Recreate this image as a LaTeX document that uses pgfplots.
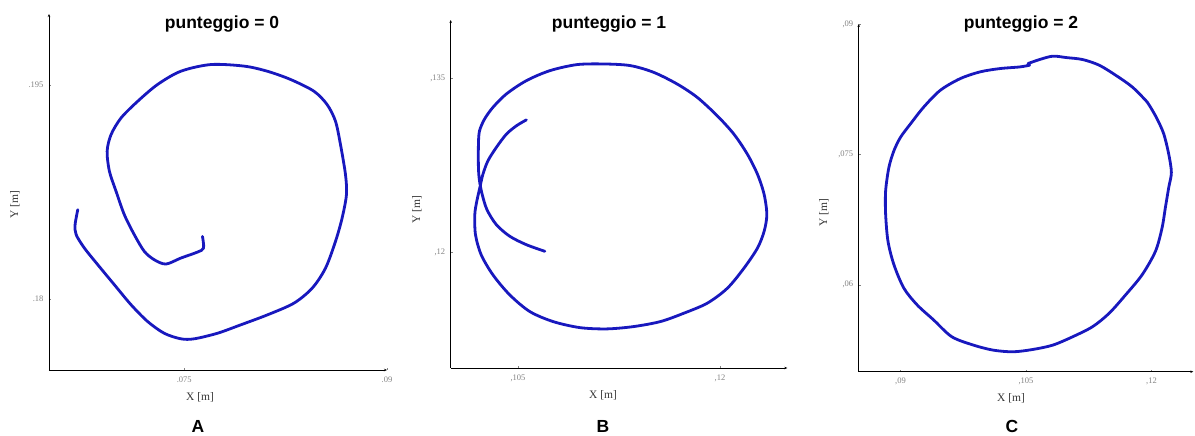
\documentclass[border=0pt]{standalone}
\usepackage{fontspec}
\setmainfont{Liberation Serif}
\newfontfamily\sansbold{Liberation Sans}
\usepackage{pgfplots}
\pgfplotsset{compat=1.18}
\usetikzlibrary{arrows.meta}

\definecolor{trace}{RGB}{24,24,190}
\definecolor{ticktext}{RGB}{130,130,130}
\definecolor{labeltext}{RGB}{55,55,55}

% Trajectory of the pen tip, one table per trial
\pgfplotstableread{
x y
0.07635 0.18438
0.07643 0.18356
0.07598 0.18328
0.07475 0.18286
0.07365 0.18244
0.07279 0.18274
0.07205 0.18333
0.07131 0.18450
0.07057 0.18591
0.06996 0.18755
0.06947 0.18895
0.06930 0.19036
0.06959 0.19153
0.07033 0.19270
0.07156 0.19387
0.07303 0.19505
0.07475 0.19598
0.07697 0.19645
0.07943 0.19634
0.08115 0.19598
0.08287 0.19540
0.08459 0.19458
0.08557 0.19364
0.08619 0.19247
0.08656 0.19083
0.08693 0.18872
0.08700 0.18731
0.08668 0.18567
0.08619 0.18403
0.08545 0.18215
0.08447 0.18075
0.08311 0.17969
0.08115 0.17887
0.07918 0.17817
0.07746 0.17758
0.07574 0.17719
0.07475 0.17719
0.07352 0.17758
0.07230 0.17840
0.07107 0.17958
0.06984 0.18098
0.06861 0.18239
0.06762 0.18356
0.06701 0.18450
0.06693 0.18520
0.06713 0.18626
}\trialA

\pgfplotstableread{
x y
0.10562 0.13139
0.10488 0.13088
0.10413 0.13015
0.10338 0.12900
0.10276 0.12785
0.10239 0.12669
0.10219 0.12568
0.10194 0.12438
0.10179 0.12323
0.10184 0.12150
0.10226 0.11977
0.10313 0.11804
0.10438 0.11631
0.10587 0.11487
0.10761 0.11400
0.10960 0.11348
0.11159 0.11337
0.11358 0.11357
0.11557 0.11400
0.11731 0.11472
0.11906 0.11559
0.12055 0.11688
0.12179 0.11862
0.12279 0.12035
0.12328 0.12179
0.12348 0.12323
0.12328 0.12496
0.12279 0.12669
0.12204 0.12842
0.12104 0.13015
0.11980 0.13174
0.11831 0.13333
0.11682 0.13448
0.11507 0.13549
0.11333 0.13607
0.11134 0.13621
0.10935 0.13615
0.10736 0.13563
0.10562 0.13477
0.10413 0.13362
0.10313 0.13246
0.10251 0.13145
0.10214 0.13044
0.10206 0.12929
0.10206 0.12727
0.10214 0.12612
0.10234 0.12496
0.10269 0.12366
0.10338 0.12237
0.10438 0.12136
0.10562 0.12063
0.10699 0.12006
}\trialB

\pgfplotstableread{
x y
0.10544 0.08526
0.10425 0.08506
0.10187 0.08487
0.09950 0.08449
0.09712 0.08371
0.09475 0.08237
0.09277 0.08044
0.09119 0.07851
0.09000 0.07697
0.08921 0.07542
0.08861 0.07350
0.08822 0.07080
0.08822 0.06810
0.08850 0.06501
0.08921 0.06231
0.09040 0.05961
0.09198 0.05769
0.09396 0.05595
0.09613 0.05402
0.09871 0.05306
0.10108 0.05248
0.10346 0.05229
0.10583 0.05256
0.10821 0.05306
0.11058 0.05402
0.11296 0.05518
0.11494 0.05672
0.11691 0.05884
0.11889 0.06116
0.12048 0.06386
0.12127 0.06656
0.12166 0.06887
0.12206 0.07118
0.12238 0.07292
0.12206 0.07504
0.12147 0.07735
0.12067 0.07909
0.11988 0.08044
0.11949 0.08102
0.11771 0.08275
0.11573 0.08410
0.11375 0.08526
0.11177 0.08591
0.10979 0.08614
0.10821 0.08630
0.10662 0.08591
0.10524 0.08545
}\trialC

\pgfplotsset{
  traj/.style={
    scale only axis,
    anchor=south west,
    axis lines=left,
    axis line style={black, line width=0.8pt, -{Stealth[length=3pt,width=2.5pt]}},
    tick style={ticktext, line width=0.4pt},
    major tick length=2pt,
    tick align=inside,
    scaled ticks=false,
    ticklabel style={font=\fontsize{8.5}{9}\selectfont, text=ticktext},
    xticklabel style={yshift=-3pt},
    yticklabel style={xshift=-2pt},
    clip=false,
  },
  pen/.style={trace, line width=2.8pt, smooth, tension=0.5, no markers, line join=round, line cap=round},
}

\begin{document}
\begin{tikzpicture}[x=1pt,y=1pt]
\useasboundingbox (0,0) rectangle (1195,436);

% Trial A
\begin{axis}[traj, at={(49pt,66pt)}, width=338pt, height=356pt,
  xmin=0.065, xmax=0.09, ymin=0.175, ymax=0.2,
  xtick={0.075,0.09}, xticklabels={.075,.09},
  ytick={0.18,0.195}, yticklabels={.18,.195}]
\addplot[pen] table {\trialA};
\end{axis}

% Trial B
\begin{axis}[traj, at={(450.7pt,68pt)}, width=336.6pt, height=348pt,
  xmin=0.1, xmax=0.125, ymin=0.11, ymax=0.14,
  xtick={0.105,0.12}, xticklabels={{,105},{,12}},
  ytick={0.12,0.135}, yticklabels={{,12},{,135}}]
\addplot[pen] table {\trialB};
\end{axis}

% Trial C
\begin{axis}[traj, at={(858.7pt,64.3pt)}, width=334.6pt, height=347.7pt,
  xmin=0.085, xmax=0.125, ymin=0.05, ymax=0.09,
  xtick={0.09,0.105,0.12}, xticklabels={{,09},{,105},{,12}},
  ytick={0.06,0.075,0.09}, yticklabels={{,06},{,075},{,09}}]
\addplot[pen] table {\trialC};
\end{axis}

% Titles, axis names and panel letters
\begin{scope}[every node/.style={inner sep=0pt}]
\foreach \cx/\n in {222/0, 609/1, 1021/2}
  \node[anchor=base, font=\sansbold\bfseries\fontsize{17.5}{20}\selectfont] at (\cx,407) {punteggio = \n};
\foreach \cx/\l in {198/A, 603/B, 1012/C}
  \node[anchor=base, font=\sansbold\bfseries\fontsize{17.5}{20}\selectfont] at (\cx,3.5) {\l};
\foreach \cx/\cy in {200/35.5, 603/37, 1011/34.5}
  \node[anchor=base, text=labeltext, font=\fontsize{11.5}{13}\selectfont] at (\cx,\cy) {X [m]};
\foreach \cx/\cy in {15/231, 417/226, 824/223}
  \node[rotate=90, text=labeltext, font=\fontsize{11.5}{13}\selectfont] at (\cx,\cy) {Y [m]};
\end{scope}
\end{tikzpicture}
\end{document}
